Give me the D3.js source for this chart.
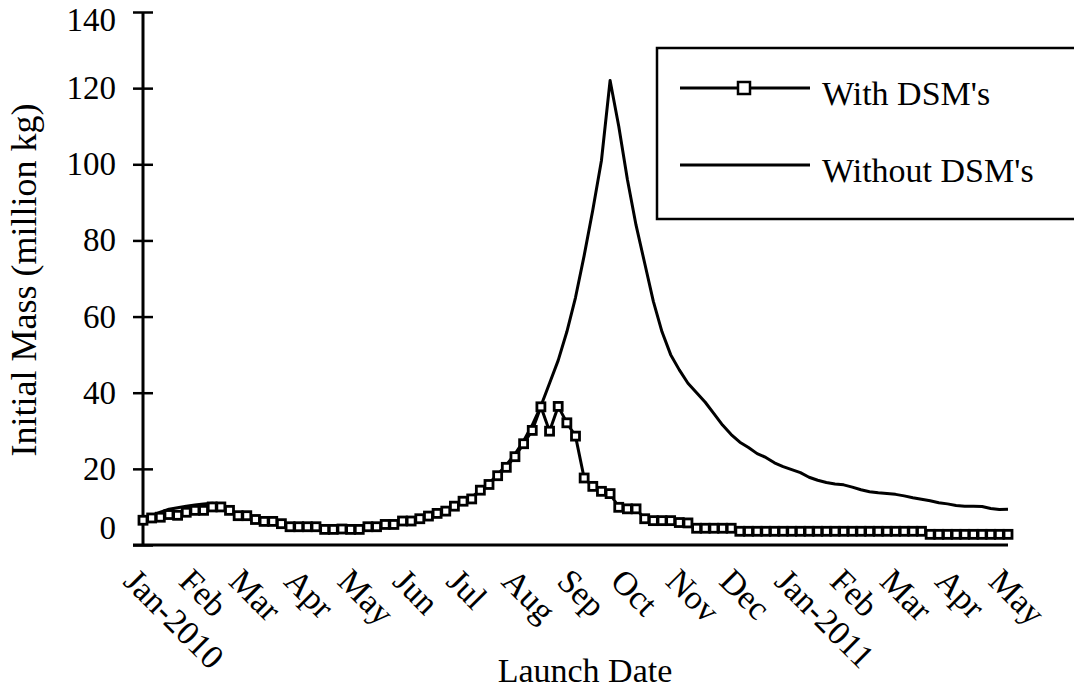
<!DOCTYPE html>
<html>
<head>
<meta charset="utf-8">
<script src="https://cdn.jsdelivr.net/npm/d3@7/dist/d3.min.js"></script>
<style>
  html, body { margin: 0; padding: 0; background: #fff; }
  svg { display: block; }
  text { font-family: "Liberation Serif", "Times New Roman", serif; fill: #000; }
</style>
</head>
<body>
<svg id="chart" width="1074" height="694"></svg>
<script>
// Launch window: evenly spaced launch dates between these two dates
const launchStart = Date.UTC(2010, 0, 1);
const launchEnd = Date.UTC(2011, 4, 1);

// Initial mass (million kg) per launch date, with deep-space manoeuvres
const withDsm = [
  6.5, 7.1, 7.3, 8.0, 7.8, 8.6, 9.1, 9.1, 10.0, 10.0,
  9.1, 7.7, 7.7, 6.7, 6.2, 6.2, 5.6, 4.8, 4.8, 4.8,
  4.8, 4.1, 4.1, 4.2, 4.1, 4.1, 4.8, 4.8, 5.4, 5.4,
  6.3, 6.3, 6.9, 7.6, 8.3, 8.9, 10.2, 11.5, 12.1, 14.4,
  15.9, 18.2, 20.4, 23.2, 26.6, 30.1, 36.3, 29.9, 36.4, 32.1,
  28.6, 17.6, 15.4, 14.1, 13.5, 9.9, 9.5, 9.5, 6.9, 6.4,
  6.4, 6.4, 5.9, 5.8, 4.4, 4.4, 4.4, 4.4, 4.4, 3.6,
  3.6, 3.6, 3.6, 3.6, 3.6, 3.6, 3.6, 3.6, 3.6, 3.6,
  3.6, 3.6, 3.6, 3.6, 3.6, 3.6, 3.6, 3.6, 3.6, 3.6,
  3.6, 2.8, 2.8, 2.8, 2.8, 2.8, 2.8, 2.8, 2.8, 2.8,
  2.8
];

// Initial mass (million kg) per launch date, without deep-space manoeuvres
const withoutDsm = [
  6.5, 7.8, 8.6, 9.4, 9.8, 10.2, 10.5, 10.8, 11.0, 10.8,
  9.6, 7.9, 7.7, 6.8, 6.3, 6.2, 5.6, 4.9, 4.8, 4.8,
  4.8, 4.3, 4.3, 4.9, 4.3, 4.2, 4.8, 4.9, 5.4, 5.5,
  6.3, 6.4, 7.0, 7.7, 8.4, 9.1, 10.3, 11.6, 12.5, 14.5,
  16.2, 18.5, 21.0, 23.9, 27.3, 31.5, 36.5, 42.5, 48.5, 56,
  65, 76, 88, 101, 122, 110, 96, 84, 74, 64,
  56, 50, 46, 42.5, 40, 37.5, 34.5, 31.5, 29, 27,
  25.6, 24, 23, 21.6, 20.6, 19.8, 19, 17.8, 17, 16.4,
  16, 15.8, 15.2, 14.5, 14, 13.7, 13.5, 13.3, 12.9, 12.4,
  12, 11.6, 11.1, 10.8, 10.4, 10.2, 10.2, 10.1, 9.6, 9.3,
  9.4
];

const yTicks = [0, 20, 40, 60, 80, 100, 120, 140];
const seriesNames = ["With DSM's", "Without DSM's"];
const xTitle = "Launch Date";
const yTitle = "Initial Mass (million kg)";

const stepMs = (launchEnd - launchStart) / (withDsm.length - 1);
const launchDates = withDsm.map((_, i) => new Date(launchStart + i * stepMs));

const svg = d3.select("#chart");
svg.append("rect").attr("width", 1074).attr("height", 694).attr("fill", "#fff");

const plot = { left: 143, right: 1008, top: 12, bottom: 545 };

const x = d3.scaleUtc()
  .domain([new Date(launchStart), new Date(launchEnd)])
  .range([plot.left, plot.right]);
const y = d3.scaleLinear().domain([0, 140]).range([plot.bottom, plot.top]);

// Y axis with ticks crossing the axis line
const yAxis = svg.append("g")
  .attr("transform", `translate(${plot.left},0)`)
  .call(d3.axisLeft(y).tickValues(yTicks).tickSize(0).tickPadding(27));
yAxis.select(".domain").remove();
yAxis.selectAll(".tick line").remove();
yAxis.selectAll(".tick").append("line")
  .attr("x1", -10).attr("x2", 10)
  .attr("stroke", "#000").attr("stroke-width", 2.5);
yAxis.selectAll(".tick text")
  .attr("font-size", 33)
  .attr("font-family", "Liberation Serif, serif")
  .attr("dy", d => d === 0 ? "-0.2em" : d === 140 ? "0.55em" : "0.32em");
svg.append("line")
  .attr("x1", plot.left).attr("x2", plot.left)
  .attr("y1", y(140)).attr("y2", y(0) + 1)
  .attr("stroke", "#000").attr("stroke-width", 3);

// X axis baseline
svg.append("line")
  .attr("x1", plot.left - 10).attr("x2", plot.right)
  .attr("y1", y(0)).attr("y2", y(0))
  .attr("stroke", "#000").attr("stroke-width", 3);

// Month labels, rotated 45 degrees
const months = d3.utcMonth.range(new Date(launchStart), new Date(launchEnd + 1));
const monthFmt = d => d.getUTCMonth() === 0 ? d3.utcFormat("%b-%Y")(d) : d3.utcFormat("%b")(d);
svg.append("g").selectAll("text")
  .data(months)
  .join("text")
  .attr("transform", d => `translate(${x(d) - 21},${plot.bottom + 38}) rotate(45)`)
  .attr("font-size", 34)
  .attr("text-anchor", "start")
  .text(monthFmt);

// Axis titles
svg.append("text")
  .attr("x", 585).attr("y", 682)
  .attr("text-anchor", "middle")
  .attr("font-size", 34)
  .text(xTitle);
svg.append("text")
  .attr("transform", `translate(36,280) rotate(-90)`)
  .attr("text-anchor", "middle")
  .attr("font-size", 36)
  .text(yTitle);

// Series lines
const line = d3.line()
  .x((d, i) => x(launchDates[i]))
  .y(d => y(d));

svg.append("path")
  .datum(withoutDsm)
  .attr("d", line)
  .attr("fill", "none")
  .attr("stroke", "#000")
  .attr("stroke-width", 3)
  .attr("stroke-linejoin", "round");

svg.append("path")
  .datum(withDsm)
  .attr("d", line)
  .attr("fill", "none")
  .attr("stroke", "#000")
  .attr("stroke-width", 3)
  .attr("stroke-linejoin", "round");

const ms = 8;
svg.append("g").selectAll("rect")
  .data(withDsm)
  .join("rect")
  .attr("x", (d, i) => x(launchDates[i]) - ms / 2)
  .attr("y", d => y(d) - ms / 2)
  .attr("width", ms).attr("height", ms)
  .attr("fill", "#fff")
  .attr("stroke", "#000")
  .attr("stroke-width", 2.8);

// Legend
const lg = svg.append("g");
lg.append("rect")
  .attr("x", 657).attr("y", 48)
  .attr("width", 440).attr("height", 171)
  .attr("fill", "#fff")
  .attr("stroke", "#000").attr("stroke-width", 2.5);
const rows = [88, 165];
seriesNames.forEach((name, k) => {
  lg.append("line")
    .attr("x1", 680).attr("x2", 810)
    .attr("y1", rows[k]).attr("y2", rows[k])
    .attr("stroke", "#000").attr("stroke-width", 3);
  if (k === 0) {
    lg.append("rect")
      .attr("x", 744 - 6).attr("y", rows[k] - 6)
      .attr("width", 12).attr("height", 12)
      .attr("fill", "#fff").attr("stroke", "#000").attr("stroke-width", 2.5);
  }
  lg.append("text")
    .attr("x", 822).attr("y", rows[k] + 17)
    .attr("font-size", 34)
    .text(name);
});
</script>
</body>
</html>
